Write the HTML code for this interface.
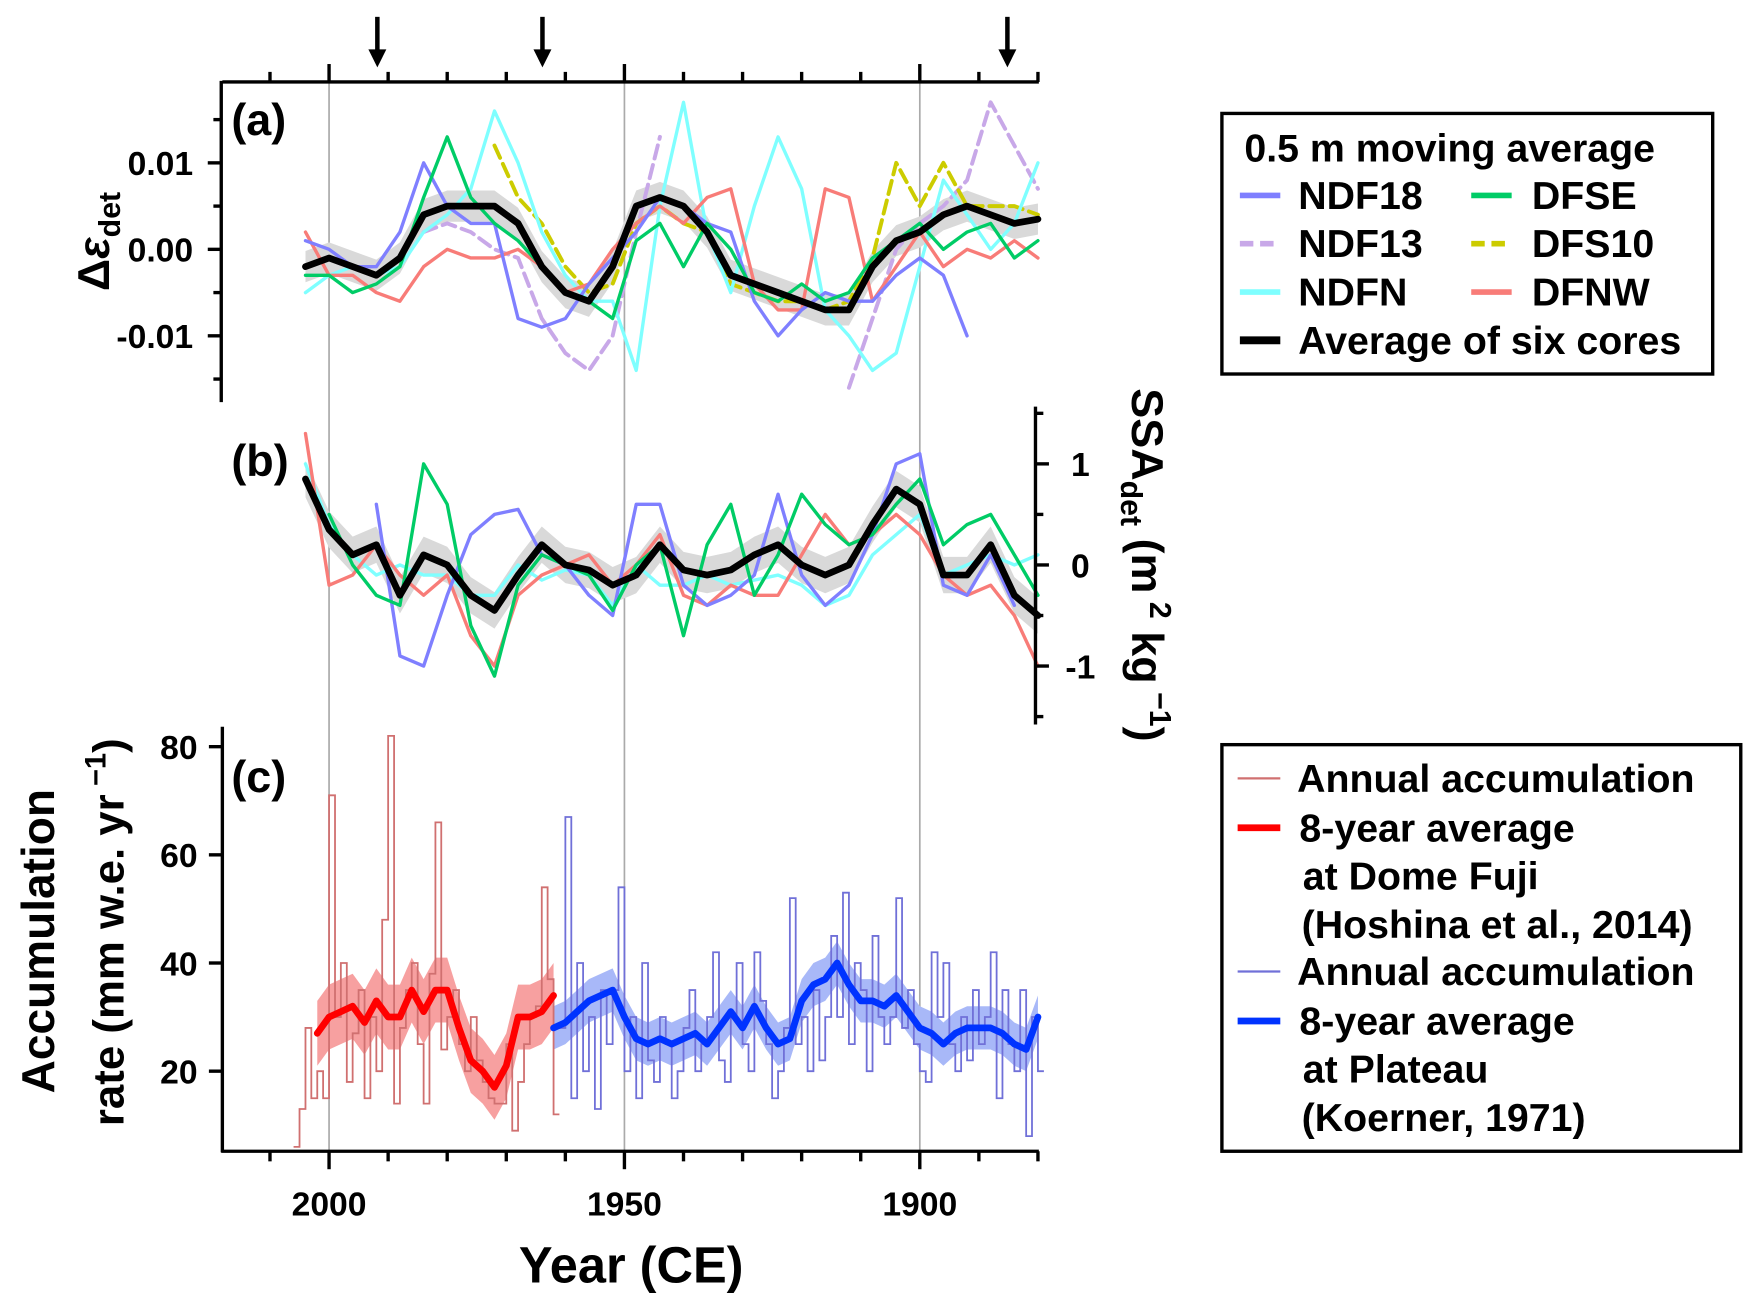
<!DOCTYPE html>
<html><head><meta charset="utf-8"><style>
html,body{margin:0;padding:0;background:#fff;}
svg{display:block;}
text{font-family:"Liberation Sans",sans-serif;font-weight:bold;fill:#000;}
.tk{font-family:"Liberation Sans Narrow","Liberation Sans",sans-serif;font-size:30px;}
.lg{font-size:35px;}
</style></head><body>
<svg id="chart" width="1752" height="1304" viewBox="0 0 1560 1161" preserveAspectRatio="none" xmlns="http://www.w3.org/2000/svg">
<g id="grid"></g>
<g id="bands"></g>
<g id="series"></g>
<g id="axes"></g>
<g>
<text x="206" y="120" font-size="40">(a)</text>
<text x="206" y="424" font-size="40">(b)</text>
<text x="206" y="705" font-size="40">(c)</text>
</g>
<g>
<text transform="translate(97,215) rotate(-90)" text-anchor="middle" font-size="40">Δ<tspan font-style="italic">ε</tspan><tspan font-size="27" dy="10">det</tspan></text>
<text transform="translate(1008,503) rotate(90)" text-anchor="middle" font-size="40">SSA<tspan font-size="27" dy="10">det</tspan><tspan dy="-10"> (m</tspan><tspan font-size="27" dy="-16"> 2</tspan><tspan dy="16"> kg</tspan><tspan font-size="27" dy="-16"> −1</tspan><tspan dy="16">)</tspan></text>
<text transform="translate(48,838) rotate(-90)" text-anchor="middle" font-size="41">Accumulation</text>
<text transform="translate(110,830) rotate(-90)" text-anchor="middle" font-size="39">rate (mm w.e. yr<tspan font-size="26" dy="-16"> −1</tspan><tspan dy="16">)</tspan></text>
<text x="562" y="1142" text-anchor="middle" font-size="45">Year (CE)</text>
</g>
<g>
<rect x="1088" y="101" width="437" height="232" fill="#fff" stroke="#000" stroke-width="3"/>
<text x="1108" y="144" class="lg">0.5 m moving average</text>
<line x1="1104" y1="174" x2="1140" y2="174" stroke="#7f7fff" stroke-width="5"/><text x="1156" y="186" class="lg">NDF18</text>
<line x1="1104" y1="217" x2="1140" y2="217" stroke="#c8a8e8" stroke-width="5" stroke-dasharray="12,6"/><text x="1156" y="229" class="lg">NDF13</text>
<line x1="1104" y1="260" x2="1140" y2="260" stroke="#7fffff" stroke-width="5"/><text x="1156" y="272" class="lg">NDFN</text>
<line x1="1104" y1="303" x2="1140" y2="303" stroke="#000" stroke-width="7"/><text x="1156" y="315" class="lg">Average of six cores</text>
<line x1="1310" y1="174" x2="1346" y2="174" stroke="#00cc66" stroke-width="5"/><text x="1364" y="186" class="lg">DFSE</text>
<line x1="1310" y1="217" x2="1346" y2="217" stroke="#cccc00" stroke-width="5" stroke-dasharray="12,6"/><text x="1364" y="229" class="lg">DFS10</text>
<line x1="1310" y1="260" x2="1346" y2="260" stroke="#f87c78" stroke-width="5"/><text x="1364" y="272" class="lg">DFNW</text>
</g>
<g>
<rect x="1088" y="663" width="462" height="362" fill="#fff" stroke="#000" stroke-width="3"/>
<line x1="1102" y1="693" x2="1140" y2="693" stroke="#d07070" stroke-width="2"/><text x="1155" y="705" class="lg">Annual accumulation</text>
<line x1="1102" y1="737" x2="1140" y2="737" stroke="#ff0000" stroke-width="6"/><text x="1157" y="749" class="lg">8-year average</text>
<text x="1160" y="792" class="lg">at Dome Fuji</text>
<text x="1159" y="835" class="lg">(Hoshina et al., 2014)</text>
<line x1="1102" y1="865" x2="1140" y2="865" stroke="#7070d8" stroke-width="2"/><text x="1155" y="877" class="lg">Annual accumulation</text>
<line x1="1102" y1="909" x2="1140" y2="909" stroke="#0033ff" stroke-width="6"/><text x="1157" y="921" class="lg">8-year average</text>
<text x="1160" y="964" class="lg">at Plateau</text>
<text x="1159" y="1007" class="lg">(Koerner, 1971)</text>
</g>
<g>
<line x1="336" y1="15" x2="336" y2="48" stroke="#000" stroke-width="4"/><polygon points="328,44 344,44 336,60" fill="#000"/>
<line x1="483" y1="15" x2="483" y2="48" stroke="#000" stroke-width="4"/><polygon points="475,44 491,44 483,60" fill="#000"/>
<line x1="897" y1="15" x2="897" y2="48" stroke="#000" stroke-width="4"/><polygon points="889,44 905,44 897,60" fill="#000"/>
</g>
</svg>
<script>
// common year grid (4-yr step) for panels a and b
const yearsAB = [2004,2000,1996,1992,1988,1984,1980,1976,1972,1968,1964,1960,1956,1952,1948,1944,1940,1936,1932,1928,1924,1920,1916,1912,1908,1904,1900,1896,1892,1888,1884,1880];
// panel (a) delta epsilon, units of 0.001
const aNDF18 = [1,0,-2,-2,2,10,5,3,3,-8,-9,-8,-4,-1,2,6,5,3,2,-6,-10,-7,-5,-6,-6,-3,-1,-3,-10,null,null,null];
const aNDF13 = [null,null,null,null,null,2,3,2,0,-1,-8,-12,-14,-10,2,13,null,null,null,null,null,null,null,-16,-8,0,3,5,8,17,12,7];
const aNDFN = [-5,-3,-2,-3,-2,2,4,7,16,10,2,-3,-6,-6,-14,5,17,2,-5,5,13,7,-7,-10,-14,-12,-2,8,4,0,3,10];
const aDFSE = [-3,-3,-5,-4,-2,6,13,6,3,1,-2,-5,-6,-8,1,3,-2,3,0,-5,-6,-4,-6,-5,-1,1,3,0,2,3,-1,1];
const aDFS10 = [null,null,null,null,null,null,null,null,12,6,3,-2,-5,-4,3,5,3,2,-4,-5,-6,-6,-7,-6,-1,10,5,10,5,5,5,4];
const aDFNW = [2,-3,-3,-5,-6,-2,0,-1,-1,0,-2,-5,-4,0,3,5,3,6,7,-4,-7,-7,7,6,-6,-2,2,-2,0,-1,1,-1];
const aAVG = [-2,-1,-2,-3,-1,4,5,5,5,3,-2,-5,-6,-2,5,6,5,2,-3,-4,-5,-6,-7,-7,-2,1,2,4,5,4,3,3.5];
// panel (b) SSA, m2/kg
const bNDF18 = [null,null,null,0.6,-0.9,-1.0,-0.3,0.3,0.5,0.55,0.1,0.0,-0.3,-0.5,0.6,0.6,-0.2,-0.4,-0.3,-0.1,0.7,-0.1,-0.4,-0.2,0.3,1.0,1.1,-0.2,-0.3,0.1,-0.4,null];
const bDFSE = [null,0.5,0.0,-0.3,-0.4,1.0,0.6,-0.6,-1.1,-0.2,0.1,0.0,-0.1,-0.45,0.0,0.2,-0.7,0.2,0.6,-0.3,0.1,0.7,0.4,0.2,0.3,0.6,0.85,0.2,0.4,0.5,0.1,-0.3];
const bNDFN = [1.0,0.4,0.1,-0.1,0.0,-0.1,-0.1,-0.3,-0.3,0.0,-0.15,-0.05,-0.1,-0.4,0.0,-0.2,-0.2,-0.1,-0.2,-0.15,-0.1,-0.2,-0.4,-0.3,0.1,0.3,0.5,-0.1,0.0,0.1,0.0,0.1];
const bDFNW = [1.3,-0.2,-0.1,0.2,-0.1,-0.3,-0.1,-0.7,-1.0,-0.3,-0.1,0.0,0.1,-0.2,0.0,0.3,-0.3,-0.4,-0.2,-0.3,-0.3,0.1,0.5,0.2,0.3,0.5,0.3,-0.1,-0.3,-0.2,-0.5,-1.0];
const bAVG = [0.85,0.35,0.1,0.2,-0.3,0.1,0.0,-0.3,-0.45,-0.1,0.2,0.0,-0.05,-0.2,-0.1,0.2,-0.05,-0.1,-0.05,0.1,0.2,0.0,-0.1,0.0,0.4,0.75,0.6,-0.1,-0.1,0.2,-0.3,-0.5];
// panel (c) accumulation, mm w.e./yr
const redAnnualStart = 2006;
const redAnnual = [6,13,28,15,20,15,71,30,40,18,27,35,15,30,20,48,82,14,28,35,40,25,14,38,66,24,30,35,25,20,30,22,18,15,14,14,25,9,18,25,30,32,54,37,12];
const blueAnnualStart = 1961;
const blueAnnual = [28,67,15,40,20,30,13,35,25,35,54,20,30,15,40,22,18,30,25,15,20,28,35,20,25,30,42,22,18,30,40,25,20,42,33,25,15,20,28,52,25,30,20,35,22,30,45,30,53,25,40,35,20,45,30,25,30,52,28,35,25,20,18,42,30,40,25,20,30,22,35,25,30,42,15,35,25,20,35,8,30,20];
const redAvgYears = [2002,2000,1998,1996,1994,1992,1990,1988,1986,1984,1982,1980,1978,1976,1974,1972,1970,1968,1966,1964,1962];
const redAvg = [27,30,31,32,29,33,30,30,35,31,35,35,28,22,20,17,21,30,30,31,34];
const blueAvgYears = [1962,1960,1958,1956,1954,1952,1950,1948,1946,1944,1942,1940,1938,1936,1934,1932,1930,1928,1926,1924,1922,1920,1918,1916,1914,1912,1910,1908,1906,1904,1902,1900,1898,1896,1894,1892,1890,1888,1886,1884,1882,1880];
const blueAvg = [28,29,31,33,34,35,30,26,25,26,25,26,27,25,28,31,28,32,28,25,26,33,36,37,40,36,33,33,32,34,31,28,27,25,27,28,28,28,27,25,24,30];
const tickA = ["0.01","0.00","-0.01"], tickAval=[10,0,-10];
const tickB = ["1","0","-1"], tickBval=[1,0,-1];
const tickC = ["80","60","40","20"], tickCval=[80,60,40,20];
const tickX = ["2000","1950","1900"], tickXval=[2000,1950,1900];

const NS="http://www.w3.org/2000/svg";
const xs = y => 293 + (2000 - y) * 5.26;
const ya = v => 222 - v * 7.7;
const yb = v => 503 - v * 90;
const yc = v => 1050 - v * 4.815;
function mk(parent, tag, attrs){const e=document.createElementNS(NS,tag);for(const k in attrs)e.setAttribute(k,attrs[k]);document.getElementById(parent).appendChild(e);return e;}
function pathD(xsArr, vals, yf){let d="",pen=false;for(let i=0;i<vals.length;i++){if(vals[i]===null){pen=false;continue;}d+=(pen?"L":"M")+xs(xsArr[i]).toFixed(1)+","+yf(vals[i]).toFixed(1);pen=true;}return d;}
function line(name, vals, yf, color, w, dash, yrs){const p=mk("series","path",{d:pathD(yrs||yearsAB,vals,yf),fill:"none",stroke:color,"stroke-width":w,"stroke-linejoin":"round","stroke-linecap":"round"});if(dash)p.setAttribute("stroke-dasharray",dash);


return p;}
function band(name, yrs, vals, yf, half, color){let top=[],bot=[];for(let i=0;i<vals.length;i++){if(vals[i]===null)continue;top.push(xs(yrs[i]).toFixed(1)+","+yf(vals[i]+half).toFixed(1));bot.unshift(xs(yrs[i]).toFixed(1)+","+yf(vals[i]-half).toFixed(1));}
const p=mk("bands","polygon",{points:top.concat(bot).join(" "),fill:color});

}
function steps(name, start, vals, color){let d="";for(let i=0;i<vals.length;i++){const x1=xs(start-i),x2=xs(start-i-1),y=yc(vals[i]);d+=(i?"L":"M")+x1.toFixed(1)+","+y.toFixed(1)+"L"+x2.toFixed(1)+","+y.toFixed(1);}
const p=mk("series","path",{d:d,fill:"none",stroke:color,"stroke-width":1.6});

}

for(const y of tickXval){const g=mk("grid","line",{x1:xs(y),x2:xs(y),y1:73,y2:1025,stroke:"#aaa","stroke-width":1.5});

}
band("band-a-average", yearsAB, aAVG, ya, 1.8, "#d9d9d9");
band("band-b-average", yearsAB, bAVG, yb, 0.18, "#d9d9d9");
band("band-red-8yr", redAvgYears, redAvg, yc, 6, "#f7a0a0");
band("band-blue-8yr", blueAvgYears, blueAvg, yc, 4, "#a8b8f8");
line("a-ndf13", aNDF13, ya, "#c8a8e8", 3.5, "12,6");
line("a-dfs10", aDFS10, ya, "#cccc00", 3.5, "12,6");
line("a-ndfn", aNDFN, ya, "#7fffff", 3);
line("a-dfnw", aDFNW, ya, "#f87c78", 3);
line("a-ndf18", aNDF18, ya, "#7f7fff", 3);
line("a-dfse", aDFSE, ya, "#00cc66", 3);
line("a-average", aAVG, ya, "#000", 6);
line("b-ndfn", bNDFN, yb, "#7fffff", 3);
line("b-dfnw", bDFNW, yb, "#f87c78", 3);
line("b-ndf18", bNDF18, yb, "#7f7fff", 3);
line("b-dfse", bDFSE, yb, "#00cc66", 3);
line("b-average", bAVG, yb, "#000", 6);
steps("red-annual", redAnnualStart, redAnnual, "#d07070");
steps("blue-annual", blueAnnualStart, blueAnnual, "#7070d8");
line("red-8yr-average", redAvg, yc, "#ff0000", 6, null, redAvgYears);
line("blue-8yr-average", blueAvg, yc, "#0033ff", 6, null, blueAvgYears);

function ax(name,a){const e=mk("axes","line",Object.assign({stroke:"#000","stroke-width":3},a));

}
function tx(name,x,y,s,anchor){const t=mk("axes","text",{x:x,y:y,"text-anchor":anchor,class:"tk"});t.textContent=s;

}
ax("top-axis",{x1:198,x2:925,y1:73,y2:73});
ax("a-left-axis",{x1:197,x2:197,y1:72,y2:358});
ax("b-right-axis",{x1:922,x2:922,y1:362,y2:645});
ax("c-left-axis",{x1:198,x2:198,y1:647,y2:1026});
ax("bottom-axis",{x1:197,x2:925,y1:1025,y2:1025});
for(let y=2010;y>=1880;y-=10){const major=(y%50===0);const x=xs(y);
ax("top-tick-"+y,{x1:x,x2:x,y1:73,y2:73-(major?16:9)});
ax("bottom-tick-"+y,{x1:x,x2:x,y1:1025,y2:1025+(major?16:9)});}
tickXval.forEach((v,i)=>tx("x-tick-label-"+tickX[i],xs(v),1082,tickX[i],"middle"));
for(let v=-15;v<=15;v+=5){const major=(v%10===0);ax("a-tick-"+v,{x1:197,x2:197-(major?12:7),y1:ya(v),y2:ya(v)});}
tickAval.forEach((v,i)=>tx("a-tick-label-"+i,172,ya(v)+11,tickA[i],"end"));
for(let v=-1.5;v<=1.5;v+=0.5){const major=(Math.abs(v%1)<0.01);ax("b-tick-"+v,{x1:922,x2:922+(major?12:7),y1:yb(v),y2:yb(v)});}
tickBval.forEach((v,i)=>tx("b-tick-label-"+i,962,yb(v)+11,tickB[i],"middle"));
tickCval.forEach((v,i)=>{ax("c-tick-"+v,{x1:198,x2:186,y1:yc(v),y2:yc(v)});tx("c-tick-label-"+v,176,yc(v)+11,tickC[i],"end");});
</script>
</body></html>
